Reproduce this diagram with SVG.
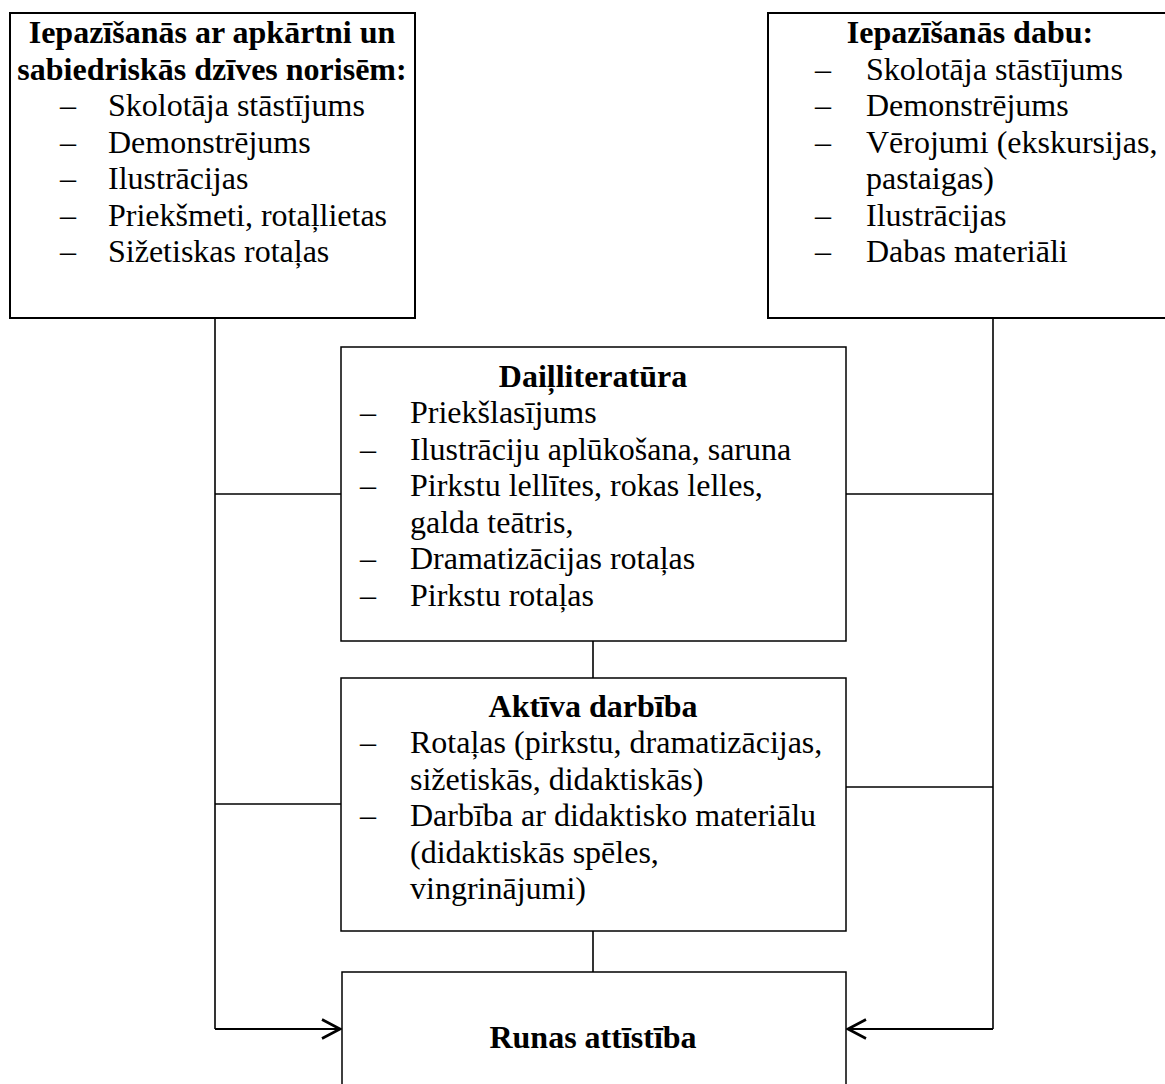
<svg xmlns="http://www.w3.org/2000/svg" width="1165" height="1084" viewBox="0 0 1165 1084">
<defs>
<style>
.bg{fill:#fff}
.box{fill:#fff;stroke:#000;stroke-width:1.5}
.box2{fill:#fff;stroke:#000;stroke-width:2}
.conn{fill:none;stroke:#000;stroke-width:1.6}
.arr{fill:none;stroke:#000;stroke-width:2.2}
text{font-family:"Liberation Serif","Times New Roman",serif;font-size:32px;fill:#000}
.t{font-weight:bold;text-anchor:middle}
</style>
<marker id="chev" viewBox="0 0 22 22" refX="20" refY="11" markerWidth="22" markerHeight="22" markerUnits="userSpaceOnUse" orient="auto">
<path d="M2,1.5 L20,11 L2,20.5" fill="none" stroke="#000" stroke-width="2.6"/>
</marker>
</defs>
<rect class="bg" x="0" y="0" width="1165" height="1084"/>
<g id="connectors">
<path class="conn" d="M215,318 V1029"/>
<path class="arr" d="M215,1029 H340" marker-end="url(#chev)"/>
<path class="conn" d="M993,318 V1029"/>
<path class="arr" d="M993,1029 H848" marker-end="url(#chev)"/>
<path class="conn" d="M215,494 H341"/>
<path class="conn" d="M215,804 H341"/>
<path class="conn" d="M846,494 H993"/>
<path class="conn" d="M846,787 H993"/>
<path class="conn" d="M593,641 V678"/>
<path class="conn" d="M593,931 V972"/>
</g>
<g id="node-apkartne">
<rect class="box2" x="10" y="13" width="405" height="305"/>
<text class="t" x="212" y="43">Iepazīšanās ar apkārtni un</text>
<text class="t" x="212" y="80">sabiedriskās dzīves norisēm:</text>
<text x="60" y="116">–</text><text x="108" y="116">Skolotāja stāstījums</text>
<text x="60" y="153">–</text><text x="108" y="153">Demonstrējums</text>
<text x="60" y="189">–</text><text x="108" y="189">Ilustrācijas</text>
<text x="60" y="226">–</text><text x="108" y="226">Priekšmeti, rotaļlietas</text>
<text x="60" y="262">–</text><text x="108" y="262">Sižetiskas rotaļas</text>
</g>
<g id="node-daba">
<rect class="box2" x="768" y="13" width="410" height="305"/>
<text class="t" x="970" y="43">Iepazīšanās dabu:</text>
<text x="815" y="80">–</text><text x="866" y="80">Skolotāja stāstījums</text>
<text x="815" y="116">–</text><text x="866" y="116">Demonstrējums</text>
<text x="815" y="153">–</text><text x="866" y="153">Vērojumi (ekskursijas,</text>
<text x="866" y="189">pastaigas)</text>
<text x="815" y="226">–</text><text x="866" y="226">Ilustrācijas</text>
<text x="815" y="262">–</text><text x="866" y="262">Dabas materiāli</text>
</g>
<g id="node-dailliteratura">
<rect class="box" x="341" y="347" width="505" height="294"/>
<text class="t" x="593" y="387">Daiļliteratūra</text>
<text x="360" y="423">–</text><text x="410" y="423">Priekšlasījums</text>
<text x="360" y="460">–</text><text x="410" y="460">Ilustrāciju aplūkošana, saruna</text>
<text x="360" y="496">–</text><text x="410" y="496">Pirkstu lellītes, rokas lelles,</text>
<text x="410" y="533">galda teātris,</text>
<text x="360" y="569">–</text><text x="410" y="569">Dramatizācijas rotaļas</text>
<text x="360" y="606">–</text><text x="410" y="606">Pirkstu rotaļas</text>
</g>
<g id="node-aktiva">
<rect class="box" x="341" y="678" width="505" height="253"/>
<text class="t" x="593" y="717">Aktīva darbība</text>
<text x="360" y="753">–</text><text x="410" y="753">Rotaļas (pirkstu, dramatizācijas,</text>
<text x="410" y="790">sižetiskās, didaktiskās)</text>
<text x="360" y="826">–</text><text x="410" y="826">Darbība ar didaktisko materiālu</text>
<text x="410" y="863">(didaktiskās spēles,</text>
<text x="410" y="899">vingrinājumi)</text>
</g>
<g id="node-runas">
<rect class="box" x="342" y="972" width="504" height="130"/>
<text class="t" x="593" y="1048">Runas attīstība</text>
</g>
</svg>
